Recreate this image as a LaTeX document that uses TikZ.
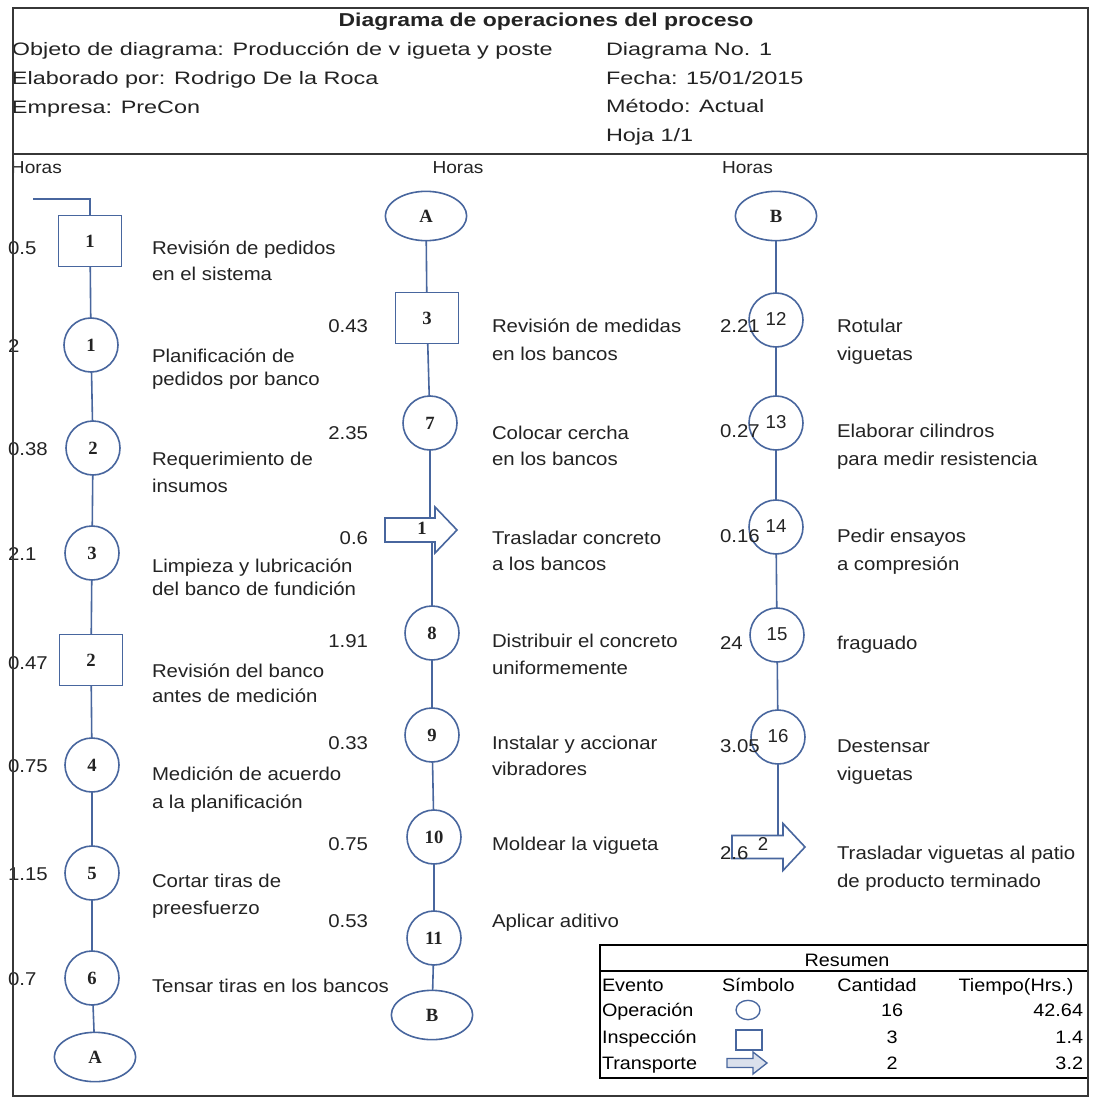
\documentclass[tikz,border=0pt]{standalone}
\usepackage{fontspec}
\setmainfont{Liberation Sans}
\newfontfamily\hdrf[FakeStretch=1.3]{Liberation Sans}
\newfontfamily\txtf[FakeStretch=1.1]{Liberation Sans}
\newfontfamily\ttlf[FakeStretch=1.23]{Liberation Sans}
\newfontfamily\serf{Liberation Serif}
\newfontfamily\numf{Liberation Sans}
\usetikzlibrary{shapes.geometric,calc}
\definecolor{shp}{RGB}{72,102,158}
\definecolor{ink}{RGB}{35,35,35}
\definecolor{frm}{RGB}{55,55,55}
\newcommand\Fhdr{\hdrf\fontsize{13.5pt}{16pt}\selectfont}
\newcommand\Ftxt{\txtf\fontsize{13.9pt}{16pt}\selectfont}
\newcommand\Fhor{\txtf\fontsize{13pt}{16pt}\selectfont}
\newcommand\Ftbl{\txtf\fontsize{13.5pt}{16pt}\selectfont}
\newcommand\Fser{\serf\bfseries\fontsize{14pt}{16pt}\selectfont}
\newcommand\Fnum{\numf\fontsize{14pt}{16pt}\selectfont}
\begin{document}
\begin{tikzpicture}[x=0.75pt,y=-0.75pt,
  every node/.style={inner sep=0pt,outer sep=0pt,text=ink},
  hdr/.style={font=\Fhdr,anchor=base west},
  txt/.style={font=\Ftxt,anchor=base west},
  hrsE/.style={font=\Ftxt,anchor=base east},
  hor/.style={font=\Fhor},
  tbl/.style={font=\Ftbl,text=black,anchor=base west},
  opc/.style={circle,draw=shp,line width=1.2pt,minimum size=40.5pt,font=\Fser},
  opcS/.style={circle,draw=shp,line width=1.2pt,minimum size=40.5pt,font=\Fnum},
  insp/.style={rectangle,draw=shp,line width=1.2pt,minimum width=47.25pt,minimum height=38.25pt,font=\Fser},
  conn/.style={ellipse,draw=shp,line width=1.2pt,minimum width=61pt,minimum height=37pt,font=\Fser},
  tbody/.style={rectangle,draw=none},
  shpline/.style={draw=shp,line width=1.2pt,line join=miter},
  con/.style={draw=shp,line width=1.2pt}
]
\useasboundingbox (0,0) rectangle (1092,1098);
\fill[white] (0,0) rectangle (1092,1098);

% ---------- header ----------
\node[font=\ttlf\bfseries\fontsize{14pt}{16pt}\selectfont,anchor=base] (title) at (546,27) {Diagrama de operaciones del proceso};
\node[hdr] (h1) at (12,56) {Objeto de diagrama: Producción de v igueta y poste};
\node[hdr] (h2) at (12,85) {Elaborado por: Rodrigo De la Roca};
\node[hdr] (h3) at (12,114) {Empresa: PreCon};
\node[hdr] (h4) at (606,56) {Diagrama No. 1};
\node[hdr] (h5) at (606,85) {Fecha: 15/01/2015};
\node[hdr] (h6) at (606,113) {Método: Actual};
\node[hdr] (h7) at (606,142) {Hoja 1/1};

\node[hor,anchor=base west] (hor1) at (11,174) {Horas};
\node[hor,anchor=base] (hor2) at (458,174) {Horas};
\node[hor,anchor=base west] (hor3) at (722,174) {Horas};

% ---------- left column ----------
\coordinate (s0) at (33,199);
\node[insp] (b1) at (90,241) {1};
\node[opc] (c1) at (91,345) {1};
\node[opc] (c2) at (93,448) {2};
\node[opc] (c3) at (92,553) {3};
\node[insp] (b2) at (91,660) {2};
\node[opc] (c4) at (92,765) {4};
\node[opc] (c5) at (92,873) {5};
\node[opc] (c6) at (92,978) {6};
\node[conn] (A1) at (95,1057) {A};

\draw[con] (s0) -| (b1.north);
\foreach \a/\b in {b1/c1,c1/c2,c2/c3,c3/b2,b2/c4,c4/c5,c5/c6,c6/A1}
  \draw[con] (\a) -- (\b);

\foreach \n/\y/\t in {hl1/254/0.5,hl2/352/2,hl3/455/0.38,hl4/560/2.1,hl5/669/0.47,hl6/772/0.75,hl7/880/1.15,hl8/985/0.7}
  \node[txt] (\n) at (8,\y) {\t};

\foreach \n/\y/\t in {dl1/254/Revisión de pedidos,dl2/280/en el sistema,dl3/362/Planificación de,dl4/385/pedidos por banco,dl5/465/Requerimiento de,dl6/492/insumos,dl7/572/Limpieza y lubricación,dl8/595/del banco de fundición,dl9/677/Revisión del banco,dl10/702/antes de medición,dl11/780/Medición de acuerdo,dl12/808/a la planificación,dl13/887/Cortar tiras de,dl14/914/preesfuerzo,dl15/992/Tensar tiras en los bancos}
  \node[txt] (\n) at (152,\y) {\t};

% ---------- middle column ----------
\node[conn] (A2) at (426,216) {A};
\node[insp] (b3) at (427,318) {3};
\node[opc] (c7) at (430,423) {7};
\node[tbody,minimum width=37.5pt,minimum height=18pt] (t1) at (410,530) {};
\draw[shpline] (t1.north west) -- (t1.north east) -- ++(0,-11) -- ($(t1.east)+(22,0)$) -- ($(t1.south east)+(0,11)$) -- (t1.south east) -- (t1.south west) -- cycle;
\node[font=\Fser] (t1l) at (422,528) {1};
\node[opc] (c8) at (432,633) {8};
\node[opc] (c9) at (432,735) {9};
\node[opc] (c10) at (434,837) {10};
\node[opc] (c11) at (434,938) {11};
\node[conn] (B1) at (432,1015) {B};

\draw[con] (A2) -- (b3);
\draw[con] (b3) -- (c7);
\draw[con] (c7) -- (c7.south |- t1.north);
\draw[con] (c8.north |- t1.south) -- (c8);
\foreach \a/\b in {c8/c9,c9/c10,c10/c11,c11/B1}
  \draw[con] (\a) -- (\b);

\foreach \n/\y/\t in {hm1/332/0.43,hm2/439/2.35,hm3/544/0.6,hm4/647/1.91,hm5/749/0.33,hm6/850/0.75,hm7/927/0.53}
  \node[hrsE] (\n) at (368,\y) {\t};

\foreach \n/\y/\t in {dm1/332/Revisión de medidas,dm2/360/en los bancos,dm3/439/Colocar cercha,dm4/465/en los bancos,dm5/544/Trasladar concreto,dm6/570/a los bancos,dm7/647/Distribuir el concreto,dm8/674/uniformemente,dm9/749/Instalar y accionar,dm10/775/vibradores,dm11/850/Moldear la vigueta,dm12/927/Aplicar aditivo}
  \node[txt] (\n) at (492,\y) {\t};

% ---------- right column ----------
\node[conn] (B2) at (776,216) {B};
\node[opcS] (c12) at (776,320) {\raisebox{2pt}{12}};
\node[opcS] (c13) at (776,423) {\raisebox{2pt}{13}};
\node[opcS] (c14) at (776,527) {\raisebox{2pt}{14}};
\node[opcS] (c15) at (777,635) {\raisebox{2pt}{15}};
\node[opcS] (c16) at (778,737) {\raisebox{2pt}{16}};
\node[tbody,minimum width=38.25pt,minimum height=17.25pt] (t2) at (757.5,847) {};
\draw[shpline] (t2.north west) -- (t2.north east) -- ++(0,-12) -- ($(t2.east)+(22,0)$) -- ($(t2.south east)+(0,12)$) -- (t2.south east) -- (t2.south west) -- cycle;
\node[font=\Fnum] (t2l) at (763,844) {2};

\draw[con] (B2) -- (c12);
\foreach \a/\b in {c12/c13,c13/c14,c14/c15,c15/c16}
  \draw[con] (\a) -- (\b);
\draw[con] (c16) -- (c16.south |- t2.north);

\foreach \n/\y/\t in {hr1/332/2.21,hr2/437/0.27,hr3/542/0.16,hr4/649/24,hr5/752/3.05,hr6/859/2.6}
  \node[txt] (\n) at (720,\y) {\t};

\foreach \n/\y/\t in {dr1/332/Rotular,dr2/360/viguetas,dr3/437/Elaborar cilindros,dr4/465/para medir resistencia,dr5/542/Pedir ensayos,dr6/570/a compresión,dr7/649/fraguado,dr8/752/Destensar,dr9/780/viguetas,dr10/859/Trasladar viguetas al patio,dr11/887/de producto terminado}
  \node[txt] (\n) at (837,\y) {\t};

% ---------- summary table ----------
\node[rectangle,draw=black,line width=1.2pt,minimum width=366pt,minimum height=99.75pt] (tbl) at (844,1011.5) {};
\coordinate (rl) at (0,971);
\draw[black,line width=1.2pt] (tbl.west |- rl) -- (tbl.east |- rl);
\node[tbl,anchor=base] (rs) at (847,966) {Resumen};
\node[tbl] (ev) at (602,991) {Evento};
\node[tbl] (sy) at (722,991) {Símbolo};
\node[tbl,anchor=base] (ca) at (877,991) {Cantidad};
\node[tbl,anchor=base] (ti) at (1016,991) {Tiempo(Hrs.)};
\node[tbl] (op) at (602,1016) {Operación};
\node[tbl] (in) at (602,1043) {Inspección};
\node[tbl] (tr) at (602,1069) {Transporte};
\node[tbl,anchor=base] (q1) at (892,1016) {16};
\node[tbl,anchor=base] (q2) at (892,1043) {3};
\node[tbl,anchor=base] (q3) at (892,1069) {2};
\node[tbl,anchor=base east] (v1) at (1083,1016) {42.64};
\node[tbl,anchor=base east] (v2) at (1083,1043) {1.4};
\node[tbl,anchor=base east] (v3) at (1083,1069) {3.2};
\node[ellipse,draw=shp,line width=1pt,minimum width=18pt,minimum height=14.5pt] (so) at (748,1010) {};
\node[rectangle,draw=shp,line width=1pt,minimum width=19.5pt,minimum height=15pt] (si) at (749,1040) {};
\node[tbody,minimum width=19.5pt,minimum height=6.75pt] (st) at (740,1063) {};
\draw[shpline,line width=1pt,fill=shp!20] (st.north west) -- (st.north east) -- ++(0,-6.5) -- ($(st.east)+(14,0)$) -- ($(st.south east)+(0,6.5)$) -- (st.south east) -- (st.south west) -- cycle;

% ---------- frame ----------
\draw[frm,line width=1.5pt] (13,8) rectangle (1088,1096);
\draw[frm,line width=1.5pt] (13,154) -- (1088,154);
\end{tikzpicture}
\end{document}
